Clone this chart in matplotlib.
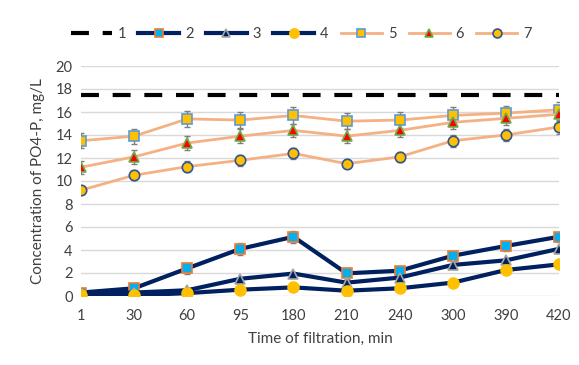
import matplotlib
matplotlib.use("Agg")
import matplotlib.pyplot as plt
import numpy as np

plt.rcParams['font.family'] = ['Lato', 'DejaVu Sans']

categories = ["1", "30", "60", "95", "180", "210", "240", "300", "390", "420"]
s1 = [17.5] * 10
s2 = [0.3, 0.67, 2.4, 4.1, 5.15, 1.97, 2.2, 3.5, 4.35, 5.15]
s3 = [0.2, 0.3, 0.5, 1.5, 1.95, 1.16, 1.6, 2.7, 3.1, 4.1]
s4 = [0.1, 0.05, 0.25, 0.55, 0.75, 0.46, 0.67, 1.16, 2.26, 2.75]
s5 = [13.5, 13.9, 15.4, 15.3, 15.7, 15.2, 15.3, 15.7, 15.9, 16.2]
s6 = [11.2, 12.1, 13.3, 13.9, 14.4, 13.9, 14.4, 15.1, 15.45, 15.8]
s7 = [9.2, 10.5, 11.25, 11.8, 12.4, 11.5, 12.1, 13.5, 14.0, 14.7]
e2 = [0.4, 0.45, 0.5, 0.5, 0.5, 0.45, 0.45, 0.45, 0.45, 0.45]
e5 = [0.65, 0.65, 0.7, 0.7, 0.7, 0.7, 0.7, 0.7, 0.6, 0.7]
e6 = [0.55, 0.6, 0.6, 0.6, 0.6, 0.6, 0.6, 0.6, 0.6, 0.6]
e7 = [0.35, 0.45, 0.45, 0.5, 0.5, 0.4, 0.45, 0.5, 0.55, 0.6]
labels = ["1", "2", "3", "4", "5", "6", "7"]

fig = plt.figure(figsize=(5.79, 3.65), dpi=100)
ax = fig.add_axes([81/579, 1-296/365, (559-81)/579, (296-66)/365])
x = np.arange(len(categories))

navy = "#002060"
peach = "#F4B183"
ecol = "#7F7F7F"

h1, = ax.plot(x, s1, color="black", lw=3, dashes=(4.3, 3.3), label=labels[0], zorder=3)

def series(y, err, color, lw, marker, ms, fc, ec, mew, lab):
    if err is not None:
        ax.errorbar(x, y, yerr=err, fmt='none', ecolor=ecol, elinewidth=1, capsize=2.5, capthick=1, zorder=4)
    h, = ax.plot(x, y, color=color, lw=lw, marker=marker, ms=ms, mfc=fc, mec=ec, mew=mew, label=lab, zorder=5)
    return h

h2 = series(s2, e2, navy, 3, 's', 7.5, "#00B0F0", "#ED7D31", 1.2, labels[1])
h3 = series(s3, None, navy, 3, '^', 7.5, navy, "#A5A5A5", 1.2, labels[2])
h4 = series(s4, None, navy, 3, 'o', 8, "#FFC000", "#FFC000", 1, labels[3])
h5 = series(s5, e5, peach, 2, 's', 7.5, "#FFC000", "#5B9BD5", 1.2, labels[4])
h6 = series(s6, e6, peach, 2, '^', 7.5, "#FF0000", "#70AD47", 1.2, labels[5])
h7 = series(s7, e7, peach, 2, 'o', 7.5, "#FFC000", "#2F5597", 1.2, labels[6])

ax.set_xlim(0, 9)
ax.set_ylim(0, 20)
ax.set_yticks(np.arange(0, 21, 2))
ax.set_xticks(x)
ax.set_xticklabels(categories)
ax.yaxis.grid(True, color="#D9D9D9", lw=1)
ax.set_axisbelow(True)
for sp in ax.spines.values():
    sp.set_visible(False)
ax.tick_params(axis='both', length=0, labelsize=10.5, colors="#404040")
ax.tick_params(axis='x', pad=9)
ax.tick_params(axis='y', pad=6)
ax.set_xlabel("Time of filtration, min", fontsize=11, color="#404040", labelpad=7)
ax.set_ylabel("Concentration of PO4-P, mg/L", fontsize=11, color="#404040", labelpad=8)

fig.legend(handles=[h1, h2, h3, h4, h5, h6, h7], loc='center', bbox_to_anchor=(0.52, 1-34/365),
           ncol=7, frameon=False, handlelength=2.8, columnspacing=0.85, handletextpad=0.4,
           fontsize=10.5, labelcolor="#404040", markerscale=0.85)

fig.savefig("out.png", dpi=100)
